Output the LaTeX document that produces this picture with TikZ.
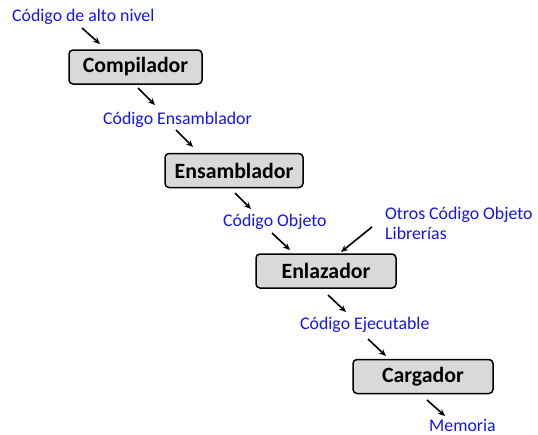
\documentclass[tikz,border=0pt]{standalone}
\usepackage{fontspec}
\setmainfont{Carlito}
\usetikzlibrary{arrows.meta}
\definecolor{lbl}{RGB}{20,20,240}
\definecolor{boxfill}{RGB}{217,217,217}
\tikzset{
  lab/.style={text=lbl, font=\fontsize{17.8}{20}\selectfont, inner sep=0pt, anchor=west},
  proc/.style={draw=black, line width=1.5pt, rounded corners=4pt, fill=boxfill, minimum width=#1, minimum height=34pt, font=\fontsize{21.8}{24}\selectfont\bfseries, inner sep=0pt},
  arr/.style={-{Stealth[length=7pt,width=6pt]}, line width=1.6pt, black}
}
\begin{document}
\begin{tikzpicture}[x=1pt,y=-1pt]
\useasboundingbox (0,0) rectangle (538,434);
% labels
\node[lab] (l1) at (12,17) {Código de alto nivel};
\node[lab] (l2) at (103,120) {Código Ensamblador};
\node[lab] (l3) at (223,222) {Código Objeto};
\node[lab, align=left] (l4) at (385,223) {Otros Código Objeto\\Librerías};
\node[lab] (l5) at (300,325) {Código Ejecutable};
\node[lab] (l6) at (429,425) {Memoria};
% boxes
\node[proc=133pt] (b1) at (135.5,67) {Compilador};
\node[proc=138pt] (b2) at (234,170.5) {Ensamblador};
\node[proc=140pt] (b3) at (326,271) {Enlazador};
\node[proc=140pt] (b4) at (423,376.5) {Cargador};
% arrow points
\coordinate (a1s) at (82,28);  \coordinate (a1e) at (100,44);
\coordinate (a2s) at (138,88); \coordinate (a2e) at (155,105);
\coordinate (a3s) at (176,130);\coordinate (a3e) at (193,147);
\coordinate (a4s) at (235,193);\coordinate (a4e) at (251,209);
\coordinate (a5s) at (272,233);\coordinate (a5e) at (290,250);
\coordinate (a6s) at (372,227);\coordinate (a6e) at (341,252);
\coordinate (a7s) at (328,295);\coordinate (a7e) at (346,312);
\coordinate (a8s) at (368,339);\coordinate (a8e) at (386,356);
\coordinate (a9s) at (427,400);\coordinate (a9e) at (445,416);
\foreach \i in {1,...,9} {\draw[arr] (a\i s) -- (a\i e);}
\end{tikzpicture}
\end{document}
